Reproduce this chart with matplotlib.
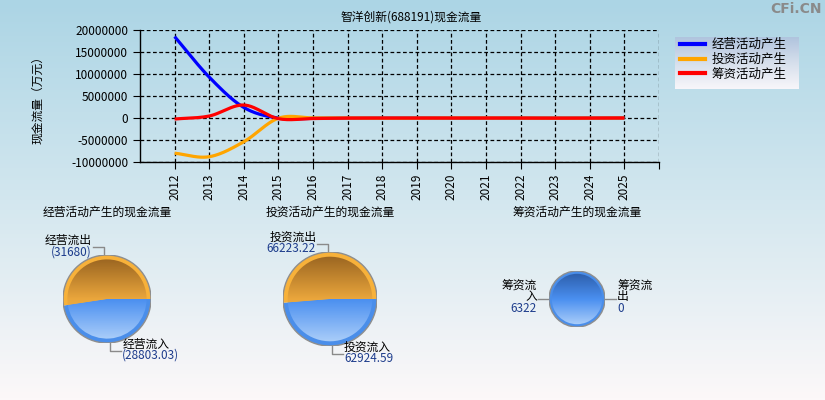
import numpy as np
import matplotlib
matplotlib.use('Agg')
import matplotlib.pyplot as plt
import matplotlib.colors as mcolors
from matplotlib.lines import Line2D
from matplotlib.ticker import FuncFormatter

plt.rcParams['font.family'] = ['Noto Sans CJK SC', 'DejaVu Sans']

# ── data ───────────────────────────────────────────────────────────────────────
years = list(range(2012, 2026))
op_net = [18500000, 9300000, 2400000, -20000, -60000, -30000, -40000,
          -10000, -50000, -20000, -30000, -60000, -20000, -2877]
inv_net = [-8000000, -8800000, -5400000, -50000, 20000, -10000, -40000,
           -30000, 0, -20000, -10000, -30000, -20000, -3299]
fin_net = [-230000, 450000, 2950000, -150000, -120000, -20000, -10000,
           -30000, -10000, -20000, -10000, -40000, -10000, 6322]
series_names = ['经营活动产生', '投资活动产生', '筹资活动产生']
series_colors = ['#0000ff', '#ffa500', '#ff0000']

pie_titles = ['经营活动产生的现金流量', '投资活动产生的现金流量', '筹资活动产生的现金流量']
op_vals = [28803.03, 31680]
op_names = ['经营流入', '经营流出']
op_texts = ['(28803.03)', '(31680)']
inv_vals = [62924.59, 66223.22]
inv_names = ['投资流入', '投资流出']
inv_texts = ['62924.59', '66223.22']
fin_vals = [6322, 0]
fin_names = ['筹资流\n入', '筹资流\n出']
fin_texts = ['6322', '0']

W, H = 825, 400


def smooth(x, y, n=24):
    # cardinal (catmull-rom) spline through the points, like the original chart
    x = np.asarray(x, float); y = np.asarray(y, float)
    m = np.zeros_like(y)
    m[1:-1] = (y[2:] - y[:-2]) / 2
    m[0] = y[1] - y[0]; m[-1] = y[-1] - y[-2]
    xs, ys = [], []
    for i in range(len(x) - 1):
        t = np.linspace(0, 1, n, endpoint=False)
        h00 = 2*t**3 - 3*t**2 + 1; h10 = t**3 - 2*t**2 + t
        h01 = -2*t**3 + 3*t**2; h11 = t**3 - t**2
        xs.append(x[i] + t*(x[i+1]-x[i]))
        ys.append(h00*y[i] + h10*m[i] + h01*y[i+1] + h11*m[i+1])
    xs.append([x[-1]]); ys.append([y[-1]])
    return np.concatenate(xs), np.concatenate(ys)


def vgrad(c_top, c_mid, c_bot, n=200):
    cm = mcolors.LinearSegmentedColormap.from_list('g', [c_top, c_mid, c_bot])
    return cm(np.linspace(0, 1, n))[:, None, :3]


fig = plt.figure(figsize=(W/100, H/100), dpi=100)

# ── background gradient ────────────────────────────────────────────────────────
bg = fig.add_axes([0, 0, 1, 1], zorder=-10)
bg.imshow(vgrad('#acd5e5', '#d3e7ef', '#fcf8f9'), extent=(0, W, H, 0), aspect='auto')
# legend box
bg.imshow(vgrad('#b0c4de', '#d6dfec', '#f8f6fa'), extent=(675, 799, 89, 37), aspect='auto')
bg.set_xlim(0, W); bg.set_ylim(H, 0)
bg.axis('off')

# ── line chart ─────────────────────────────────────────────────────────────────
ax = fig.add_axes([140/W, 1-162/H, 519/W, 132/H])
ax.set_facecolor('none')
for vals, c in zip([op_net, inv_net, fin_net], series_colors):
    xs, ys = smooth(years, vals)
    ax.plot(xs, ys, color=c, lw=2.3, solid_capstyle='butt', zorder=3)

ax.set_xlim(2011, 2026)
ax.set_ylim(-10000000, 20000000)
ax.set_yticks(np.arange(-10000000, 20000001, 5000000))
ax.yaxis.set_major_formatter(FuncFormatter(lambda v, p: f'{int(v)}'))
ax.set_xticks(list(range(2012, 2027)))
ax.set_xticklabels([str(y) for y in years] + [''], rotation=90)
ax.grid(True, color='black', linestyle=(0, (3, 2)), linewidth=0.9)
for s in ['top', 'right']:
    ax.spines[s].set_visible(False)
for s in ['left', 'bottom']:
    ax.spines[s].set_linewidth(1.0)
ax.tick_params(direction='out', length=5, labelsize=8.5, colors='black')

fig.text(411/W, 1-17/H, '智洋创新(688191)现金流量', ha='center', va='center', fontsize=8.5)
fig.text(38/W, 1-97/H, '现金流量（万元）', ha='center', va='center', rotation=90, fontsize=8.5)
fig.text(822/W, 1-9/H, 'CFi.CN', ha='right', va='center', color='#8a8a8a',
         fontsize=10, fontweight='bold', family='DejaVu Sans')

handles = [Line2D([], [], color=c, lw=3) for c in series_colors]
fig.legend(handles, series_names, loc='upper left', bbox_to_anchor=(680/W, 1-38/H),
           frameon=False, fontsize=9, handlelength=2.0, handletextpad=0.5,
           labelspacing=0.15, borderaxespad=0, borderpad=0)

# ── pies ───────────────────────────────────────────────────────────────────────
blue_rim, orange_rim = '#4a8eea', '#f7b13a'
blue_grad = vgrad('#2b5ba6', '#4a8ff0', '#b3d3fa')
orange_grad = vgrad('#94601f', '#eaa63c', '#f9bd4c')


def draw_pie(cx, cy, r, vals, names, texts, title):
    pax = fig.add_axes([(cx-r)/W, 1-(cy+r)/H, 2*r/W, 2*r/H])
    rims = [blue_rim, orange_rim]
    outer, _ = pax.pie(vals, colors=rims, radius=1, startangle=0, counterclock=False,
                       wedgeprops=dict(linewidth=0))
    inner, _ = pax.pie(vals, colors=rims, radius=0.9, startangle=0, counterclock=False,
                       wedgeprops=dict(linewidth=0))
    for wdg, g in zip(inner, [blue_grad, orange_grad]):
        im = pax.imshow(g, extent=(-1, 1, -1, 1), aspect='auto', zorder=2)
        im.set_clip_path(wdg)
    pax.add_patch(plt.Circle((0, 0), 1, fill=False, ec='#8e8e8e', lw=1.0, zorder=4))
    pax.set_xlim(-1, 1); pax.set_ylim(-1, 1)
    pax.axis('off')
    fig.text(cx/W, 1-212/H, title, ha='center', va='center', fontsize=8.5)

    # labels with elbow leaders, drawn in pixel space on the background axes
    for wdg, name, txt, v in zip(outer, names, texts, vals):
        mid = np.deg2rad((wdg.theta1 + wdg.theta2) / 2)
        c, s = np.cos(mid), np.sin(mid)
        sx = 1 if c >= 0 else -1
        if v == 0:
            p = (cx, cy)
            q = (cx + r*c, cy - r*s)
        else:
            p = (cx + r*c, cy - r*s)
            q = p
        if abs(s) > 0.3:
            q = (q[0], q[1] - np.sign(s)*8)
        e = (q[0] + sx*11, q[1])
        bg.plot([p[0], q[0], e[0]], [p[1], q[1], e[1]], color='#8a8a8a', lw=1.0)
        ha = 'left' if sx > 0 else 'right'
        tx = e[0] + sx*1
        if '\n' in name:
            dn, dv = -8, 10
        else:
            dn, dv = -7, 4.5
        fig.text(tx/W, 1-(e[1]+dn)/H, name, ha=ha, va='center', fontsize=8.5,
                 multialignment=ha, linespacing=0.85)
        fig.text(tx/W, 1-(e[1]+dv)/H, txt, ha=ha, va='center', fontsize=8.5,
                 color='#1d3c8c')


draw_pie(107, 299, 44, op_vals, op_names, op_texts, pie_titles[0])
draw_pie(330, 299, 47, inv_vals, inv_names, inv_texts, pie_titles[1])
draw_pie(577, 299, 28, fin_vals, fin_names, fin_texts, pie_titles[2])

plt.savefig('out.png', dpi=100)
